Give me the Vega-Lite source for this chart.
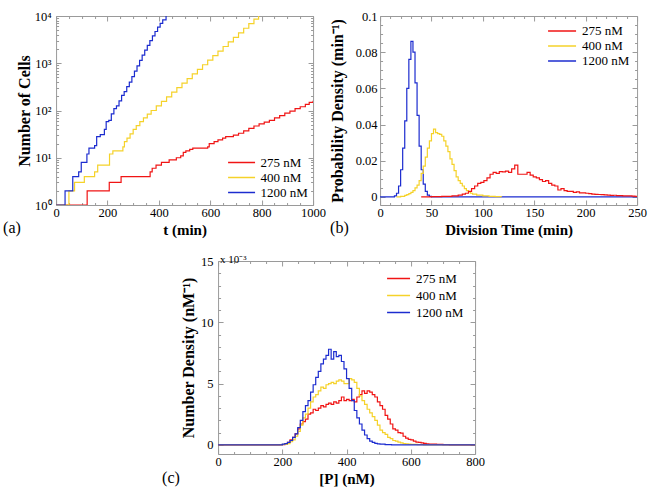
{
"$schema": "https://vega.github.io/schema/vega-lite/v6.json",
"padding": {"left": 2, "top": 9, "right": 2, "bottom": 2},
"config": {
 "font": "Liberation Serif",
 "view": {"stroke": "#9a9a9a", "strokeWidth": 1},
 "axis": {"domain": false, "grid": false, "labelFont": "Liberation Serif", "labelFontSize": 12.5, "labelColor": "black", "titleFont": "Liberation Serif", "titleFontSize": 15, "titleFontWeight": "bold", "titleColor": "black", "tickColor": "#9a9a9a", "labelFlush": false, "labelOverlap": false},
 "axisY": {"titleFontSize": 16},
 "legend": {"title": null, "labelFont": "Liberation Serif", "labelFontSize": 13, "labelColor": "black", "symbolType": "M-2,0H2", "symbolStrokeWidth": 1.5, "rowPadding": 0},
 "title": {"font": "Liberation Serif", "fontSize": 16, "fontWeight": "normal", "color": "black"}
},
"datasets": {
 "a": [
  {"s":"275 nM","x":0,"y":1},{"s":"275 nM","x":121,"y":2},{"s":"275 nM","x":207,"y":3},{"s":"275 nM","x":253,"y":4},{"s":"275 nM","x":366,"y":5},{"s":"275 nM","x":374,"y":6},{"s":"275 nM","x":389,"y":7},{"s":"275 nM","x":410,"y":8},{"s":"275 nM","x":440,"y":9},{"s":"275 nM","x":468,"y":10},{"s":"275 nM","x":485,"y":11},{"s":"275 nM","x":495,"y":13},{"s":"275 nM","x":505,"y":14},{"s":"275 nM","x":520,"y":15},{"s":"275 nM","x":532,"y":16},{"s":"275 nM","x":590,"y":17},{"s":"275 nM","x":596,"y":20},{"s":"275 nM","x":615,"y":22},{"s":"275 nM","x":630,"y":24},{"s":"275 nM","x":648,"y":26},{"s":"275 nM","x":660,"y":28},{"s":"275 nM","x":690,"y":30},{"s":"275 nM","x":710,"y":33},{"s":"275 nM","x":730,"y":37},{"s":"275 nM","x":750,"y":42},{"s":"275 nM","x":770,"y":47},{"s":"275 nM","x":790,"y":52},{"s":"275 nM","x":810,"y":57},{"s":"275 nM","x":830,"y":62},{"s":"275 nM","x":850,"y":70},{"s":"275 nM","x":870,"y":78},{"s":"275 nM","x":890,"y":88},{"s":"275 nM","x":910,"y":97},{"s":"275 nM","x":930,"y":110},{"s":"275 nM","x":950,"y":120},{"s":"275 nM","x":970,"y":135},{"s":"275 nM","x":985,"y":148},{"s":"275 nM","x":1000,"y":160},
  {"s":"400 nM","x":0,"y":1},{"s":"400 nM","x":50,"y":2},{"s":"400 nM","x":72,"y":3},{"s":"400 nM","x":110,"y":4},{"s":"400 nM","x":150,"y":5},{"s":"400 nM","x":162,"y":7},{"s":"400 nM","x":208,"y":12},{"s":"400 nM","x":221,"y":14},{"s":"400 nM","x":260,"y":17},{"s":"400 nM","x":266,"y":22},{"s":"400 nM","x":276,"y":26},{"s":"400 nM","x":288,"y":32},{"s":"400 nM","x":300,"y":40},{"s":"400 nM","x":312,"y":48},{"s":"400 nM","x":326,"y":58},{"s":"400 nM","x":340,"y":70},{"s":"400 nM","x":355,"y":84},{"s":"400 nM","x":370,"y":100},{"s":"400 nM","x":390,"y":125},{"s":"400 nM","x":410,"y":156},{"s":"400 nM","x":430,"y":195},{"s":"400 nM","x":450,"y":244},{"s":"400 nM","x":470,"y":305},{"s":"400 nM","x":490,"y":380},{"s":"400 nM","x":510,"y":475},{"s":"400 nM","x":530,"y":594},{"s":"400 nM","x":550,"y":743},{"s":"400 nM","x":570,"y":929},{"s":"400 nM","x":590,"y":1160},{"s":"400 nM","x":610,"y":1450},{"s":"400 nM","x":630,"y":1810},{"s":"400 nM","x":650,"y":2260},{"s":"400 nM","x":670,"y":2830},{"s":"400 nM","x":690,"y":3530},{"s":"400 nM","x":710,"y":4410},{"s":"400 nM","x":730,"y":5510},{"s":"400 nM","x":750,"y":6890},{"s":"400 nM","x":770,"y":8610},{"s":"400 nM","x":788,"y":10000},
  {"s":"1200 nM","x":0,"y":1},{"s":"1200 nM","x":35,"y":2},{"s":"1200 nM","x":65,"y":4},{"s":"1200 nM","x":88,"y":5},{"s":"1200 nM","x":98,"y":8},{"s":"1200 nM","x":120,"y":12},{"s":"1200 nM","x":128,"y":16},{"s":"1200 nM","x":150,"y":18},{"s":"1200 nM","x":158,"y":28},{"s":"1200 nM","x":172,"y":31},{"s":"1200 nM","x":188,"y":40},{"s":"1200 nM","x":195,"y":58},{"s":"1200 nM","x":205,"y":62},{"s":"1200 nM","x":215,"y":85},{"s":"1200 nM","x":225,"y":110},{"s":"1200 nM","x":235,"y":125},{"s":"1200 nM","x":245,"y":160},{"s":"1200 nM","x":255,"y":210},{"s":"1200 nM","x":265,"y":250},{"s":"1200 nM","x":275,"y":320},{"s":"1200 nM","x":285,"y":400},{"s":"1200 nM","x":295,"y":520},{"s":"1200 nM","x":305,"y":680},{"s":"1200 nM","x":315,"y":880},{"s":"1200 nM","x":325,"y":1150},{"s":"1200 nM","x":335,"y":1480},{"s":"1200 nM","x":345,"y":1900},{"s":"1200 nM","x":355,"y":2400},{"s":"1200 nM","x":365,"y":3000},{"s":"1200 nM","x":375,"y":3800},{"s":"1200 nM","x":385,"y":4700},{"s":"1200 nM","x":395,"y":5800},{"s":"1200 nM","x":405,"y":7000},{"s":"1200 nM","x":415,"y":8300},{"s":"1200 nM","x":428,"y":10000}
 ],
 "b": [
  {"s":"1200 nM","x":0,"y":0},{"s":"1200 nM","x":14,"y":0.0005},{"s":"1200 nM","x":16,"y":0.002},{"s":"1200 nM","x":18,"y":0.006},{"s":"1200 nM","x":20,"y":0.015},{"s":"1200 nM","x":22,"y":0.027},{"s":"1200 nM","x":24,"y":0.042},{"s":"1200 nM","x":26,"y":0.06},{"s":"1200 nM","x":28,"y":0.076},{"s":"1200 nM","x":30,"y":0.086},{"s":"1200 nM","x":32,"y":0.08},{"s":"1200 nM","x":34,"y":0.063},{"s":"1200 nM","x":36,"y":0.045},{"s":"1200 nM","x":38,"y":0.028},{"s":"1200 nM","x":40,"y":0.015},{"s":"1200 nM","x":42,"y":0.007},{"s":"1200 nM","x":44,"y":0.003},{"s":"1200 nM","x":46,"y":0.001},{"s":"1200 nM","x":48,"y":0.0003},{"s":"1200 nM","x":50,"y":0},{"s":"1200 nM","x":250,"y":0},
  {"s":"400 nM","x":16,"y":0},{"s":"400 nM","x":20,"y":0.0003},{"s":"400 nM","x":24,"y":0.0008},{"s":"400 nM","x":26,"y":0.0012},{"s":"400 nM","x":28,"y":0.0018},{"s":"400 nM","x":30,"y":0.0025},{"s":"400 nM","x":32,"y":0.0035},{"s":"400 nM","x":34,"y":0.005},{"s":"400 nM","x":36,"y":0.0065},{"s":"400 nM","x":38,"y":0.009},{"s":"400 nM","x":40,"y":0.013},{"s":"400 nM","x":42,"y":0.017},{"s":"400 nM","x":44,"y":0.022},{"s":"400 nM","x":46,"y":0.027},{"s":"400 nM","x":48,"y":0.031},{"s":"400 nM","x":50,"y":0.035},{"s":"400 nM","x":52,"y":0.0375},{"s":"400 nM","x":54,"y":0.0355},{"s":"400 nM","x":56,"y":0.035},{"s":"400 nM","x":58,"y":0.0345},{"s":"400 nM","x":60,"y":0.0335},{"s":"400 nM","x":62,"y":0.031},{"s":"400 nM","x":64,"y":0.028},{"s":"400 nM","x":66,"y":0.025},{"s":"400 nM","x":68,"y":0.021},{"s":"400 nM","x":70,"y":0.018},{"s":"400 nM","x":72,"y":0.0145},{"s":"400 nM","x":74,"y":0.011},{"s":"400 nM","x":76,"y":0.009},{"s":"400 nM","x":78,"y":0.0075},{"s":"400 nM","x":80,"y":0.006},{"s":"400 nM","x":82,"y":0.0045},{"s":"400 nM","x":84,"y":0.0035},{"s":"400 nM","x":86,"y":0.0028},{"s":"400 nM","x":88,"y":0.002},{"s":"400 nM","x":90,"y":0.0015},{"s":"400 nM","x":94,"y":0.001},{"s":"400 nM","x":100,"y":0.0006},{"s":"400 nM","x":106,"y":0.0003},{"s":"400 nM","x":112,"y":0.0001},{"s":"400 nM","x":118,"y":0},
  {"s":"275 nM","x":40,"y":0},{"s":"275 nM","x":50,"y":0.0001},{"s":"275 nM","x":60,"y":0.0003},{"s":"275 nM","x":70,"y":0.0006},{"s":"275 nM","x":76,"y":0.001},{"s":"275 nM","x":80,"y":0.0015},{"s":"275 nM","x":83,"y":0.002},{"s":"275 nM","x":86,"y":0.003},{"s":"275 nM","x":89,"y":0.0045},{"s":"275 nM","x":92,"y":0.006},{"s":"275 nM","x":95,"y":0.0075},{"s":"275 nM","x":98,"y":0.008},{"s":"275 nM","x":101,"y":0.009},{"s":"275 nM","x":104,"y":0.0105},{"s":"275 nM","x":107,"y":0.0125},{"s":"275 nM","x":110,"y":0.0135},{"s":"275 nM","x":113,"y":0.013},{"s":"275 nM","x":116,"y":0.014},{"s":"275 nM","x":119,"y":0.0138},{"s":"275 nM","x":122,"y":0.0142},{"s":"275 nM","x":125,"y":0.0135},{"s":"275 nM","x":128,"y":0.0155},{"s":"275 nM","x":131,"y":0.0175},{"s":"275 nM","x":134,"y":0.0125},{"s":"275 nM","x":137,"y":0.0125},{"s":"275 nM","x":140,"y":0.0125},{"s":"275 nM","x":143,"y":0.0135},{"s":"275 nM","x":146,"y":0.012},{"s":"275 nM","x":149,"y":0.011},{"s":"275 nM","x":152,"y":0.0105},{"s":"275 nM","x":155,"y":0.0095},{"s":"275 nM","x":158,"y":0.0085},{"s":"275 nM","x":161,"y":0.009},{"s":"275 nM","x":164,"y":0.0075},{"s":"275 nM","x":167,"y":0.0065},{"s":"275 nM","x":170,"y":0.006},{"s":"275 nM","x":173,"y":0.0038},{"s":"275 nM","x":176,"y":0.0045},{"s":"275 nM","x":179,"y":0.0035},{"s":"275 nM","x":182,"y":0.003},{"s":"275 nM","x":185,"y":0.003},{"s":"275 nM","x":188,"y":0.0025},{"s":"275 nM","x":191,"y":0.0028},{"s":"275 nM","x":194,"y":0.0022},{"s":"275 nM","x":197,"y":0.0022},{"s":"275 nM","x":200,"y":0.002},{"s":"275 nM","x":203,"y":0.0018},{"s":"275 nM","x":206,"y":0.0015},{"s":"275 nM","x":209,"y":0.0014},{"s":"275 nM","x":212,"y":0.0013},{"s":"275 nM","x":215,"y":0.0012},{"s":"275 nM","x":218,"y":0.0011},{"s":"275 nM","x":221,"y":0.001},{"s":"275 nM","x":224,"y":0.0008},{"s":"275 nM","x":227,"y":0.0009},{"s":"275 nM","x":230,"y":0.0007},{"s":"275 nM","x":233,"y":0.0007},{"s":"275 nM","x":236,"y":0.0006},{"s":"275 nM","x":239,"y":0.0005},{"s":"275 nM","x":242,"y":0.0005},{"s":"275 nM","x":245,"y":0.0004},{"s":"275 nM","x":248,"y":0.0003},{"s":"275 nM","x":250,"y":0.0003}
 ],
 "c": [
  {"s":"275 nM","x":0,"y":0},{"s":"275 nM","x":192,"y":0.02},{"s":"275 nM","x":208,"y":0.08},{"s":"275 nM","x":216,"y":0.2},{"s":"275 nM","x":224,"y":0.4},{"s":"275 nM","x":232,"y":0.6},{"s":"275 nM","x":240,"y":0.9},{"s":"275 nM","x":248,"y":1.3},{"s":"275 nM","x":256,"y":1.7},{"s":"275 nM","x":264,"y":1.9},{"s":"275 nM","x":272,"y":2.1},{"s":"275 nM","x":280,"y":2.5},{"s":"275 nM","x":288,"y":2.6},{"s":"275 nM","x":296,"y":2.9},{"s":"275 nM","x":304,"y":2.8},{"s":"275 nM","x":312,"y":3.0},{"s":"275 nM","x":320,"y":3.2},{"s":"275 nM","x":328,"y":3.1},{"s":"275 nM","x":336,"y":3.3},{"s":"275 nM","x":344,"y":3.4},{"s":"275 nM","x":352,"y":3.3},{"s":"275 nM","x":360,"y":3.5},{"s":"275 nM","x":368,"y":3.4},{"s":"275 nM","x":376,"y":3.6},{"s":"275 nM","x":384,"y":3.9},{"s":"275 nM","x":392,"y":3.6},{"s":"275 nM","x":400,"y":3.7},{"s":"275 nM","x":408,"y":3.6},{"s":"275 nM","x":416,"y":3.7},{"s":"275 nM","x":424,"y":3.5},{"s":"275 nM","x":432,"y":3.9},{"s":"275 nM","x":440,"y":4.1},{"s":"275 nM","x":448,"y":4.4},{"s":"275 nM","x":456,"y":4.2},{"s":"275 nM","x":464,"y":4.4},{"s":"275 nM","x":472,"y":4.3},{"s":"275 nM","x":480,"y":4.1},{"s":"275 nM","x":488,"y":3.9},{"s":"275 nM","x":496,"y":3.5},{"s":"275 nM","x":504,"y":3.2},{"s":"275 nM","x":512,"y":2.9},{"s":"275 nM","x":520,"y":2.4},{"s":"275 nM","x":528,"y":2.1},{"s":"275 nM","x":536,"y":1.7},{"s":"275 nM","x":544,"y":1.3},{"s":"275 nM","x":552,"y":1.2},{"s":"275 nM","x":560,"y":1.0},{"s":"275 nM","x":568,"y":0.95},{"s":"275 nM","x":576,"y":0.7},{"s":"275 nM","x":584,"y":0.55},{"s":"275 nM","x":592,"y":0.45},{"s":"275 nM","x":600,"y":0.4},{"s":"275 nM","x":608,"y":0.3},{"s":"275 nM","x":616,"y":0.22},{"s":"275 nM","x":624,"y":0.2},{"s":"275 nM","x":632,"y":0.15},{"s":"275 nM","x":640,"y":0.12},{"s":"275 nM","x":648,"y":0.08},{"s":"275 nM","x":656,"y":0.06},{"s":"275 nM","x":664,"y":0.05},{"s":"275 nM","x":680,"y":0.03},{"s":"275 nM","x":700,"y":0.01},{"s":"275 nM","x":720,"y":0},{"s":"275 nM","x":800,"y":0},
  {"s":"400 nM","x":0,"y":0},{"s":"400 nM","x":200,"y":0.03},{"s":"400 nM","x":216,"y":0.1},{"s":"400 nM","x":224,"y":0.25},{"s":"400 nM","x":232,"y":0.4},{"s":"400 nM","x":240,"y":0.7},{"s":"400 nM","x":248,"y":1.1},{"s":"400 nM","x":256,"y":1.6},{"s":"400 nM","x":264,"y":2.2},{"s":"400 nM","x":272,"y":2.5},{"s":"400 nM","x":280,"y":3.0},{"s":"400 nM","x":288,"y":3.5},{"s":"400 nM","x":296,"y":3.9},{"s":"400 nM","x":304,"y":4.1},{"s":"400 nM","x":312,"y":4.4},{"s":"400 nM","x":320,"y":4.7},{"s":"400 nM","x":328,"y":4.6},{"s":"400 nM","x":336,"y":4.9},{"s":"400 nM","x":344,"y":5.0},{"s":"400 nM","x":352,"y":5.1},{"s":"400 nM","x":360,"y":5.0},{"s":"400 nM","x":368,"y":5.2},{"s":"400 nM","x":376,"y":5.3},{"s":"400 nM","x":384,"y":5.2},{"s":"400 nM","x":392,"y":5.0},{"s":"400 nM","x":400,"y":5.0},{"s":"400 nM","x":408,"y":5.4},{"s":"400 nM","x":416,"y":5.3},{"s":"400 nM","x":424,"y":5.1},{"s":"400 nM","x":432,"y":4.6},{"s":"400 nM","x":440,"y":4.0},{"s":"400 nM","x":448,"y":3.6},{"s":"400 nM","x":456,"y":3.3},{"s":"400 nM","x":464,"y":2.9},{"s":"400 nM","x":472,"y":2.6},{"s":"400 nM","x":480,"y":2.3},{"s":"400 nM","x":488,"y":2.0},{"s":"400 nM","x":496,"y":1.6},{"s":"400 nM","x":504,"y":1.2},{"s":"400 nM","x":512,"y":1.0},{"s":"400 nM","x":520,"y":0.85},{"s":"400 nM","x":528,"y":0.6},{"s":"400 nM","x":536,"y":0.5},{"s":"400 nM","x":544,"y":0.35},{"s":"400 nM","x":552,"y":0.3},{"s":"400 nM","x":560,"y":0.22},{"s":"400 nM","x":568,"y":0.15},{"s":"400 nM","x":576,"y":0.1},{"s":"400 nM","x":584,"y":0.07},{"s":"400 nM","x":592,"y":0.05},{"s":"400 nM","x":600,"y":0.03},{"s":"400 nM","x":620,"y":0.01},{"s":"400 nM","x":640,"y":0},{"s":"400 nM","x":800,"y":0},
  {"s":"1200 nM","x":0,"y":0},{"s":"1200 nM","x":200,"y":0.05},{"s":"1200 nM","x":208,"y":0.1},{"s":"1200 nM","x":216,"y":0.2},{"s":"1200 nM","x":224,"y":0.35},{"s":"1200 nM","x":232,"y":0.6},{"s":"1200 nM","x":240,"y":0.9},{"s":"1200 nM","x":248,"y":1.4},{"s":"1200 nM","x":256,"y":2.0},{"s":"1200 nM","x":264,"y":2.7},{"s":"1200 nM","x":272,"y":3.2},{"s":"1200 nM","x":280,"y":3.6},{"s":"1200 nM","x":288,"y":4.3},{"s":"1200 nM","x":296,"y":4.9},{"s":"1200 nM","x":304,"y":5.5},{"s":"1200 nM","x":312,"y":6.0},{"s":"1200 nM","x":320,"y":6.6},{"s":"1200 nM","x":328,"y":7.0},{"s":"1200 nM","x":336,"y":7.3},{"s":"1200 nM","x":344,"y":7.8},{"s":"1200 nM","x":352,"y":7.0},{"s":"1200 nM","x":360,"y":7.6},{"s":"1200 nM","x":368,"y":7.2},{"s":"1200 nM","x":376,"y":7.3},{"s":"1200 nM","x":384,"y":6.8},{"s":"1200 nM","x":392,"y":6.2},{"s":"1200 nM","x":400,"y":5.4},{"s":"1200 nM","x":408,"y":4.6},{"s":"1200 nM","x":416,"y":3.6},{"s":"1200 nM","x":424,"y":2.8},{"s":"1200 nM","x":432,"y":2.2},{"s":"1200 nM","x":440,"y":1.7},{"s":"1200 nM","x":448,"y":1.2},{"s":"1200 nM","x":456,"y":0.8},{"s":"1200 nM","x":464,"y":0.5},{"s":"1200 nM","x":472,"y":0.3},{"s":"1200 nM","x":480,"y":0.2},{"s":"1200 nM","x":488,"y":0.12},{"s":"1200 nM","x":496,"y":0.08},{"s":"1200 nM","x":504,"y":0.05},{"s":"1200 nM","x":520,"y":0.02},{"s":"1200 nM","x":540,"y":0},{"s":"1200 nM","x":800,"y":0}
 ]
},
"resolve": {"scale": {"color": "independent"}, "legend": {"color": "independent"}},
"vconcat": [
 {"hconcat": [
  {
   "width": 257, "height": 189,
   "title": {"text": "(a)", "orient": "bottom", "anchor": "start", "frame": "group", "dx": -53, "offset": -17},
   "layer": [
    {
     "data": {"name": "a"},
     "mark": {"type": "line", "interpolate": "step-after", "strokeWidth": 1.2, "clip": true},
     "encoding": {
      "x": {"field": "x", "type": "quantitative", "scale": {"domain": [0, 1000], "nice": false},
       "axis": {"title": "t (min)", "format": "d", "values": [0,50,100,150,200,250,300,350,400,450,500,550,600,650,700,750,800,850,900,950,1000], "labelExpr": "datum.value % 200 == 0 ? datum.label : ''", "tickSize": {"condition": {"test": "datum.value % 200 == 0", "value": -5}, "value": -2.5}, "labelPadding": 6, "titlePadding": 1}},
      "y": {"field": "y", "type": "quantitative", "scale": {"type": "log", "domain": [1, 10000], "nice": false},
       "axis": {"title": "Number of Cells", "values": [1,2,3,4,5,6,7,8,9,10,20,30,40,50,60,70,80,90,100,200,300,400,500,600,700,800,900,1000,2000,3000,4000,5000,6000,7000,8000,9000,10000], "labelExpr": "datum.value == 1 ? '10⁰' : datum.value == 10 ? '10¹' : datum.value == 100 ? '10²' : datum.value == 1000 ? '10³' : datum.value == 10000 ? '10⁴' : ''", "tickSize": {"condition": {"test": "datum.value == 1 || datum.value == 10 || datum.value == 100 || datum.value == 1000 || datum.value == 10000", "value": -5}, "value": -2.5}, "labelPadding": 10, "titlePadding": 2}},
      "color": {"field": "s", "type": "nominal", "scale": {"domain": ["275 nM", "400 nM", "1200 nM"], "range": ["#f01414", "#f5d22a", "#1c2ccf"]},
       "legend": {"orient": "bottom-right", "offset": 5, "symbolSize": 182, "labelOffset": 11.5}}
     }
    },
    {
     "data": {"values": []},
     "mark": {"type": "rule"},
     "encoding": {
      "x": {"field": "x", "type": "quantitative", "axis": {"orient": "top", "title": null, "labels": false, "values": [0,50,100,150,200,250,300,350,400,450,500,550,600,650,700,750,800,850,900,950,1000], "tickSize": {"condition": {"test": "datum.value % 200 == 0", "value": -5}, "value": -2.5}}},
      "y": {"field": "y", "type": "quantitative", "axis": {"orient": "right", "title": null, "labels": false, "values": [1,2,3,4,5,6,7,8,9,10,20,30,40,50,60,70,80,90,100,200,300,400,500,600,700,800,900,1000,2000,3000,4000,5000,6000,7000,8000,9000,10000], "tickSize": {"condition": {"test": "datum.value == 1 || datum.value == 10 || datum.value == 100 || datum.value == 1000 || datum.value == 10000", "value": -5}, "value": -2.5}}}
     }
    }
   ],
   "resolve": {"axis": {"x": "independent", "y": "independent"}}
  },
  {
   "width": 257, "height": 189,
   "title": {"text": "(b)", "orient": "bottom", "anchor": "start", "frame": "group", "dx": -50, "offset": -17},
   "layer": [
    {
     "data": {"name": "b"},
     "mark": {"type": "line", "interpolate": "step-after", "strokeWidth": 1.2, "clip": true},
     "encoding": {
      "x": {"field": "x", "type": "quantitative", "scale": {"domain": [0, 250], "nice": false},
       "axis": {"title": "Division Time (min)", "values": [0,10,20,30,40,50,60,70,80,90,100,110,120,130,140,150,160,170,180,190,200,210,220,230,240,250], "labelExpr": "datum.value % 50 == 0 ? datum.label : ''", "tickSize": {"condition": {"test": "datum.value % 50 == 0", "value": -5}, "value": -2.5}, "labelPadding": 6, "titlePadding": 1}},
      "y": {"field": "y", "type": "quantitative", "scale": {"domain": [-0.0045, 0.1], "nice": false, "zero": false},
       "axis": {"title": "Probability Density (min⁻¹)", "values": [0,0.005,0.01,0.015,0.02,0.025,0.03,0.035,0.04,0.045,0.05,0.055,0.06,0.065,0.07,0.075,0.08,0.085,0.09,0.095,0.1], "format": "~g", "labelExpr": "indexof([0,0.02,0.04,0.06,0.08,0.1], datum.value) >= 0 ? datum.label : ''", "tickSize": {"condition": {"test": "indexof([0,0.02,0.04,0.06,0.08,0.1], datum.value) >= 0", "value": -5}, "value": -2.5}, "labelPadding": 8, "titlePadding": 10}},
      "color": {"field": "s", "type": "nominal", "scale": {"domain": ["275 nM", "400 nM", "1200 nM"], "range": ["#f01414", "#f5d22a", "#1c2ccf"]},
       "legend": {"orient": "top-right", "offset": 7, "symbolSize": 196, "labelOffset": 12}}
     }
    },
    {
     "data": {"values": []},
     "mark": {"type": "rule"},
     "encoding": {
      "x": {"field": "x", "type": "quantitative", "axis": {"orient": "top", "title": null, "labels": false, "values": [0,10,20,30,40,50,60,70,80,90,100,110,120,130,140,150,160,170,180,190,200,210,220,230,240,250], "tickSize": {"condition": {"test": "datum.value % 50 == 0", "value": -5}, "value": -2.5}}},
      "y": {"field": "y", "type": "quantitative", "axis": {"orient": "right", "title": null, "labels": false, "values": [0,0.005,0.01,0.015,0.02,0.025,0.03,0.035,0.04,0.045,0.05,0.055,0.06,0.065,0.07,0.075,0.08,0.085,0.09,0.095,0.1], "tickSize": {"condition": {"test": "indexof([0,0.02,0.04,0.06,0.08,0.1], datum.value) >= 0", "value": -5}, "value": -2.5}}}
     }
    }
   ],
   "resolve": {"axis": {"x": "independent", "y": "independent"}}
  }
 ], "spacing": 2, "resolve": {"scale": {"color": "independent"}, "legend": {"color": "independent"}}},
 {
  "hconcat": [
   {
    "width": 257, "height": 193,
    "title": {"text": "x 10⁻³", "anchor": "start", "frame": "group", "fontSize": 11, "offset": -10, "dx": 2},
    "layer": [
     {
      "data": {"name": "c"},
      "mark": {"type": "line", "interpolate": "step-after", "strokeWidth": 1.2, "clip": true},
      "encoding": {
       "x": {"field": "x", "type": "quantitative", "scale": {"domain": [0, 800], "nice": false},
        "axis": {"title": "[P] (nM)", "values": [0,50,100,150,200,250,300,350,400,450,500,550,600,650,700,750,800], "labelExpr": "datum.value % 200 == 0 ? datum.label : ''", "tickSize": {"condition": {"test": "datum.value % 200 == 0", "value": -5}, "value": -2.5}, "labelPadding": 6, "titlePadding": 1}},
       "y": {"field": "y", "type": "quantitative", "scale": {"domain": [-0.75, 15], "nice": false, "zero": false},
        "axis": {"title": "Number Density (nM⁻¹)", "values": [0,1,2,3,4,5,6,7,8,9,10,11,12,13,14,15], "labelExpr": "datum.value % 5 == 0 ? datum.label : ''", "tickSize": {"condition": {"test": "datum.value % 5 == 0", "value": -5}, "value": -2.5}, "labelPadding": 10, "titlePadding": 4}},
       "color": {"field": "s", "type": "nominal", "scale": {"domain": ["275 nM", "400 nM", "1200 nM"], "range": ["#f01414", "#f5d22a", "#1c2ccf"]},
        "legend": {"orient": "top-right", "offset": 11, "symbolSize": 132, "labelOffset": 11, "rowPadding": 3}}
      }
     },
     {
      "data": {"values": []},
      "mark": {"type": "rule"},
      "encoding": {
       "x": {"field": "x", "type": "quantitative", "axis": {"orient": "top", "title": null, "labels": false, "values": [0,50,100,150,200,250,300,350,400,450,500,550,600,650,700,750,800], "tickSize": {"condition": {"test": "datum.value % 200 == 0", "value": -5}, "value": -2.5}}},
       "y": {"field": "y", "type": "quantitative", "axis": {"orient": "right", "title": null, "labels": false, "values": [0,1,2,3,4,5,6,7,8,9,10,11,12,13,14,15], "tickSize": {"condition": {"test": "datum.value % 5 == 0", "value": -5}, "value": -2.5}}}
      }
     }
    ],
    "resolve": {"axis": {"x": "independent", "y": "independent"}}
   }
  ],
  "resolve": {"scale": {"color": "independent"}, "legend": {"color": "independent"}},
  "title": {"text": "(c)", "orient": "bottom", "anchor": "start", "frame": "bounds", "dx": -18, "offset": -17}
 }
],
"spacing": 15,
"center": true
}
